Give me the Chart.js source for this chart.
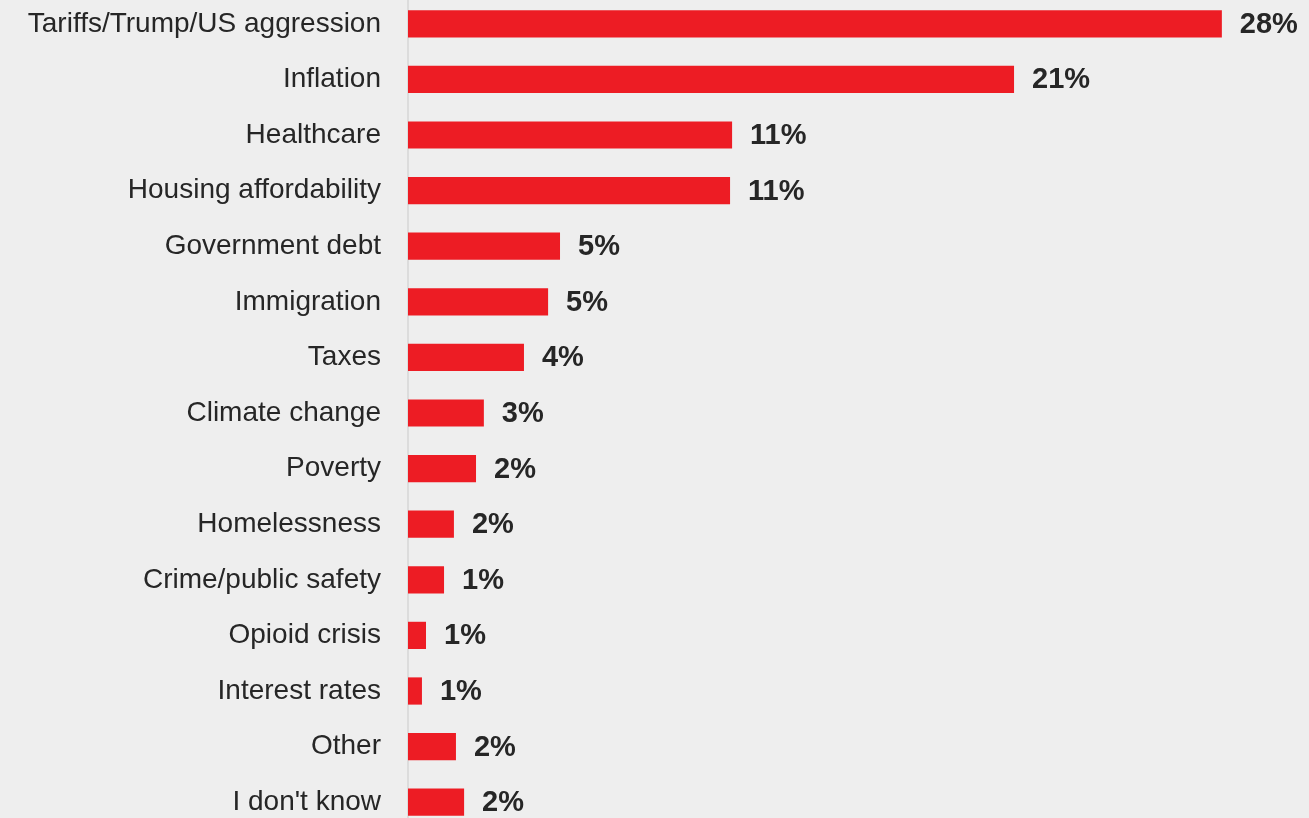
<!DOCTYPE html>
<html>
<head>
<meta charset="utf-8">
<script src="https://cdn.jsdelivr.net/npm/chart.js@4/dist/chart.umd.min.js"></script>
<style>
  html, body { margin: 0; padding: 0; background: #EEEEEE; overflow: hidden; width: 1309px; height: 818px; }
  #wrap { position: absolute; left: 0; top: -4px; width: 1309px; height: 834px; }
</style>
</head>
<body>
<div id="wrap"><canvas id="c"></canvas></div>
<script>
const categories = [
  "Tariffs/Trump/US aggression", "Inflation", "Healthcare", "Housing affordability",
  "Government debt", "Immigration", "Taxes", "Climate change", "Poverty",
  "Homelessness", "Crime/public safety", "Opioid crisis", "Interest rates",
  "Other", "I don't know"
];
const values = [28.0, 20.85, 11.15, 11.08, 5.23, 4.82, 3.99, 2.61, 2.34, 1.58, 1.24, 0.62, 0.48, 1.65, 1.93];
const valueLabels = ["28%", "21%", "11%", "11%", "5%", "5%", "4%", "3%", "2%", "2%", "1%", "1%", "1%", "2%", "2%"];

const valueLabelPlugin = {
  id: 'valueLabels',
  afterDatasetsDraw(chart) {
    const ctx = chart.ctx;
    const meta = chart.getDatasetMeta(0);
    ctx.save();
    ctx.font = 'bold 29px "Liberation Sans", Arial, sans-serif';
    ctx.fillStyle = '#262626';
    ctx.textAlign = 'left';
    ctx.textBaseline = 'middle';
    meta.data.forEach((bar, i) => {
      ctx.fillText(valueLabels[i], bar.x + 18, bar.y + 1);
    });
    ctx.restore();
  }
};

new Chart(document.getElementById('c'), {
  type: 'bar',
  data: {
    labels: categories,
    datasets: [{
      data: values,
      backgroundColor: '#ED1C24',
      borderWidth: 0,
      barPercentage: 0.98,
      categoryPercentage: 0.5
    }]
  },
  options: {
    indexAxis: 'y',
    responsive: true,
    maintainAspectRatio: false,
    animation: false,
    layout: { padding: { left: 0, right: 29, top: 0, bottom: 0 } },
    plugins: { legend: { display: false }, tooltip: { enabled: false } },
    scales: {
      x: {
        display: false,
        min: 0,
        max: 30
      },
      y: {
        afterFit(scale) {
          scale.width = 408;
          scale.paddingTop = 0;
          scale.paddingBottom = 0;
        },
        grid: { display: false, drawTicks: false },
        border: { display: true, color: '#DCDCDC', width: 2 },
        ticks: {
          padding: 27,
          color: '#262626',
          font: { family: '"Liberation Sans", Arial, sans-serif', size: 28 }
        }
      }
    }
  },
  plugins: [valueLabelPlugin]
});
</script>
</body>
</html>
